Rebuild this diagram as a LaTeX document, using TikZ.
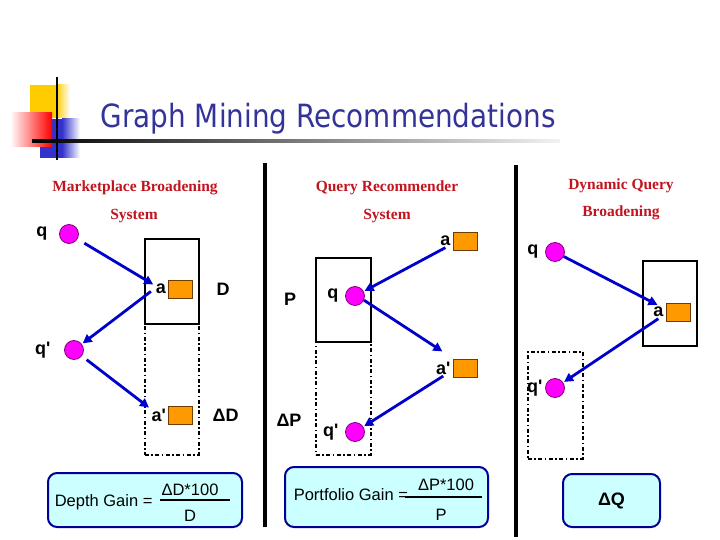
\documentclass[tikz,border=0pt]{standalone}
\usepackage{fontspec}
\setmainfont{Liberation Sans}
\newfontfamily\headserif{Liberation Serif}
\newfontfamily\titlesans[FakeStretch=0.87]{DejaVu Sans}
\usetikzlibrary{arrows.meta,positioning}
\definecolor{titleblue}{RGB}{51,51,153}
\definecolor{headred}{RGB}{192,20,30}
\definecolor{linkblue}{RGB}{0,0,204}
\definecolor{boxblue}{RGB}{0,0,153}
\definecolor{boxcyan}{RGB}{204,255,255}
\definecolor{ansorange}{RGB}{255,153,0}
\definecolor{qmagenta}{RGB}{255,0,255}
\definecolor{badgeyellow}{RGB}{255,204,0}
\definecolor{badgeblue}{RGB}{51,51,204}
\newcommand\pr{\textquotesingle}

\begin{document}
\begin{tikzpicture}[x=1pt,y=-1pt,line width=1.5pt,>={Triangle[length=9pt,width=9pt]},
  qdot/.style={circle,draw={rgb,255:red,128;green,0;blue,128},line width=0.8pt,fill=qmagenta,minimum size=19pt,inner sep=0pt},
  ans/.style={draw={rgb,255:red,110;green,60;blue,0},line width=0.8pt,fill=ansorange,minimum width=24pt,minimum height=18pt,inner sep=0pt},
  lbl/.style={font=\fontsize{18}{21}\selectfont\bfseries,inner sep=1pt},
  ftext/.style={font=\fontsize{16.5}{20}\selectfont,inner sep=0pt},
  head/.style={font=\headserif\fontsize{15.5}{18}\selectfont\bfseries,text=headred,anchor=base,inner sep=0pt},
  pane/.style={draw,line width=1.6pt,inner sep=0pt},
  ghost/.style={draw,line width=1.6pt,inner sep=0pt,dash pattern=on 4pt off 2.5pt on 1.5pt off 2.5pt},
  link/.style={draw=linkblue,line width=2.8pt,->,shorten >=1pt},
  gainbox/.style={draw=boxblue,line width=2pt,fill=boxcyan,rounded corners=9pt,inner sep=0pt},
  sep/.style={line width=4pt}]
  \useasboundingbox (0,0) rectangle (720,540);

  % title badge
  \fill[badgeyellow] (30,85) rectangle (56,118);
  \shade[left color=badgeyellow,right color=white] (56,85) rectangle (70,118);
  \fill[badgeblue] (40,119) rectangle (62,158);
  \shade[left color=badgeblue,right color=white] (62,119) rectangle (80,158);
  \shade[left color=white,right color=red] (10,113) rectangle (52,147);
  \draw[line width=2.5pt] (57,77) -- (57,160);
  \shade[left color=black,right color=black!5] (32,140) rectangle (560,142.5);
  \node[font=\titlesans\fontsize{32}{38}\selectfont,text=titleblue,anchor=base west,inner sep=0pt] (title) at (100,128) {Graph Mining Recommendations};

  % separators
  \draw[sep] (265,163) -- (265,527);
  \draw[sep] (516,165) -- (516,537);

  % headings
  \node[head] (mbh) at (135,192) {Marketplace Broadening};
  \node[head] (mbs) at (134,219) {System};
  \node[head] (qrh) at (387,192) {Query Recommender};
  \node[head] (qrs) at (387,219) {System};
  \node[head] (dqh) at (621,190) {Dynamic Query};
  \node[head] (dqs) at (621,217) {Broadening};

  % marketplace broadening
  \node[ghost,minimum width=54pt,minimum height=131pt,anchor=north west] (lDD) at (144,323) {};
  \node[pane,minimum width=54pt,minimum height=85pt,anchor=north west] (lD) at (144,238) {};
  \node[qdot] (lq) at (69,234) {};
  \node[lbl,left=10pt of lq] (lqT) {q};
  \node[ans] (la) at (180.5,289) {};
  \node[lbl,left=0.5pt of la] (laT) {a};
  \node[lbl,right=22pt of la] (lDT) {D};
  \node[qdot] (lq2) at (74,350) {};
  \node[lbl,left=12pt of lq2] (lq2T) {q\pr};
  \node[ans] (la2) at (180.5,415) {};
  \node[lbl,left=0.5pt of la2] (la2T) {a\pr};
  \node[lbl,right=18pt of la2] (lDDT) {ΔD};
  \draw[link,shorten <=8pt] (lq) -- (laT);
  \draw[link,shorten <=4pt] (laT.west) -- (lq2);
  \draw[link,shorten <=6pt] (lq2) -- (la2T);
  \node[gainbox,minimum width=194pt,minimum height=54pt] (dg) at (145,500) {};
  \node[ftext,anchor=west] (dgT) at (54,502) {Depth Gain =};
  \node[ftext] (dgN) at (190,490) {ΔD*100};
  \node[ftext] (dgD) at (190,516) {D};
  \draw[line width=2.5pt] (160,500) -- (230,500);

  % query recommender
  \node[ghost,minimum width=55pt,minimum height=113pt,anchor=north west] (mPP) at (315,341) {};
  \node[pane,minimum width=55pt,minimum height=84pt,anchor=north west] (mP) at (315,257) {};
  \node[lbl,left=17pt of mP] (mPT) {P};
  \node[ans] (ma) at (465,241) {};
  \node[lbl,left=0.5pt of ma] (maT) {a};
  \node[qdot] (mq) at (355,296) {};
  \node[lbl,left=5pt of mq] (mqT) {q};
  \node[ans] (ma2) at (465,368) {};
  \node[lbl,left=0.5pt of ma2] (ma2T) {a\pr};
  \node[lbl] (mPPT) at (289,420) {ΔP};
  \node[qdot] (mq2) at (355,432) {};
  \node[lbl,left=5pt of mq2] (mq2T) {q\pr};
  \draw[link] (maT.south) -- (mq);
  \draw[link] (mq.-25) -- ([yshift=8pt]ma2T.north);
  \draw[link] (ma2T.south) -- (mq2);
  \node[gainbox,minimum width=203pt,minimum height=60pt] (pg) at (386.5,497) {};
  \node[ftext,anchor=west] (pgT) at (293,495) {Portfolio Gain =};
  \node[ftext] (pgN) at (446,485) {ΔP*100};
  \node[ftext] (pgD) at (441,515) {P};
  \draw[line width=2.5pt] (405,497) -- (482,497);

  % dynamic query broadening
  \node[pane,minimum width=54pt,minimum height=85pt,anchor=north west] (rD) at (642,260) {};
  \node[ghost,minimum width=55pt,minimum height=107pt,anchor=north west] (rDD) at (527,351) {};
  \node[qdot] (rq) at (555,252) {};
  \node[lbl,left=5pt of rq] (rqT) {q};
  \node[ans] (ra) at (678,312) {};
  \node[lbl,left=0.5pt of ra] (raT) {a};
  \node[qdot] (rq2) at (555,388) {};
  \node[lbl,left=1pt of rq2] (rq2T) {q\pr};
  \draw[link] (rq) -- (raT.north);
  \draw[link] (raT.south) -- (rq2);
  \node[gainbox,minimum width=97pt,minimum height=53pt,font=\fontsize{18}{21}\selectfont\bfseries] (qg) at (611.5,500.5) {ΔQ};
\end{tikzpicture}
\end{document}
